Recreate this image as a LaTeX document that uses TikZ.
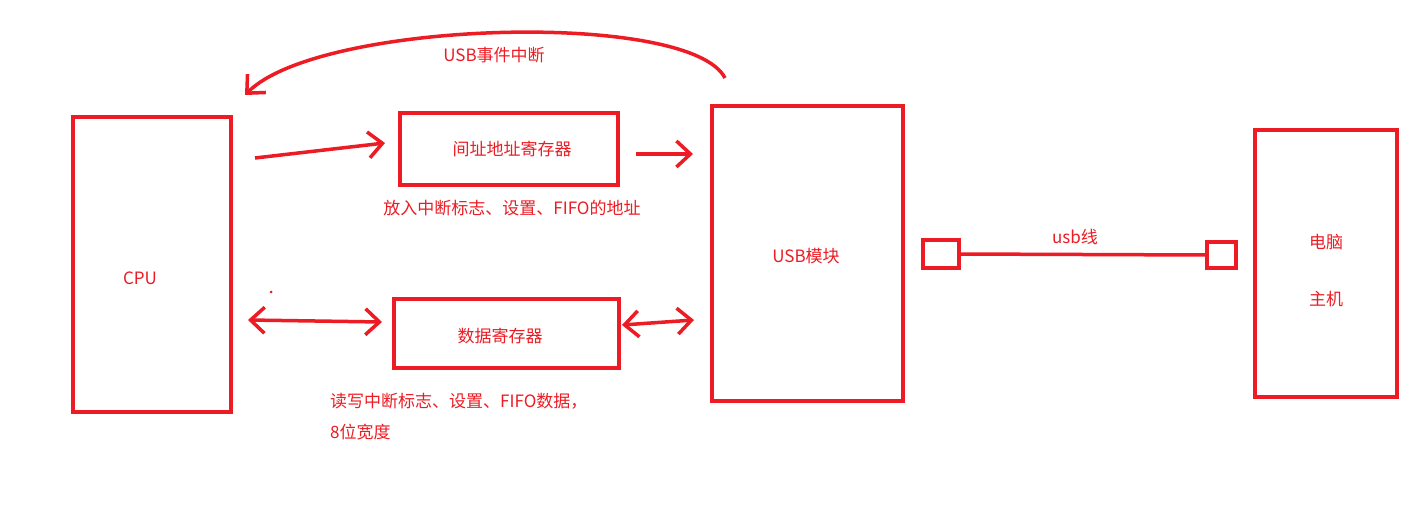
\documentclass[tikz,border=0pt]{standalone}
\usepackage{fontspec}
\newfontfamily\cjk{Noto Sans CJK SC}
\usetikzlibrary{arrows.meta}
\definecolor{myred}{RGB}{237,28,36}
\begin{document}
\begin{tikzpicture}[x=1pt,y=-1pt,
  box/.style={draw=myred,line width=3.5pt},
  lbl/.style={text=myred,font=\cjk\fontsize{17}{20}\selectfont,inner sep=0pt},
  arr/.style={draw=myred,line width=3.5pt,-{Straight Barb[length=14pt,width=26pt,line width=3.5pt]}},
  darr/.style={draw=myred,line width=3.5pt,{Straight Barb[length=14pt,width=26pt,line width=3.5pt]}-{Straight Barb[length=14pt,width=26pt,line width=3.5pt]}}]
\useasboundingbox (0,0) rectangle (1405,519);
\fill[white] (0,0) rectangle (1405,519);
\draw[box] (73,117) rectangle (231,412);
\node[lbl] (cpu) at (140,278) {CPU};
\draw[box] (400,113) rectangle (618,185);
\node[lbl] (reg1) at (512,149) {间址地址寄存器};
\node[lbl] (l1) at (512,208) {放入中断标志、设置、FIFO的地址};
\draw[box] (394,299) rectangle (619,368);
\node[lbl] (reg2) at (500,336) {数据寄存器};
\node[lbl,anchor=west] (l2) at (330,401) {读写中断标志、设置、FIFO数据，};
\node[lbl,anchor=west] (l3) at (330,432) {8位宽度};
\draw[box] (712,106) rectangle (903,401);
\node[lbl] (usb) at (806,256) {USB模块};
\draw[box] (923,240) rectangle (959,268);
\draw[box] (1207,242) rectangle (1236,268);
\coordinate (c1) at (959,254);
\coordinate (c2) at (1207,255);
\draw[myred,line width=3.5pt] (c1) -- (c2);
\node[lbl] (ul) at (1075,237) {usb线};
\draw[box] (1255,130) rectangle (1397,397);
\node[lbl] (pc1) at (1326,242) {电脑};
\node[lbl] (pc2) at (1326,299) {主机};
\coordinate (a1) at (255,158); \coordinate (a2) at (385,143);
\draw[arr] (a1) -- (a2);
\coordinate (b1) at (636,154); \coordinate (b2) at (693,154);
\draw[arr] (b1) -- (b2);
\coordinate (d1) at (248,320); \coordinate (d2) at (382,322);
\draw[darr] (d1) -- (d2);
\coordinate (e1) at (622,325); \coordinate (e2) at (694,320);
\draw[darr] (e1) -- (e2);
\coordinate (f1) at (725,78); \coordinate (f2) at (245,95);
\draw[arr] (f1) .. controls (690,10) and (320,20) .. (f2);
\node[lbl] (ev) at (494,55) {USB事件中断};
\fill[myred] (271,292) circle (1.5pt);
\end{tikzpicture}
\end{document}
